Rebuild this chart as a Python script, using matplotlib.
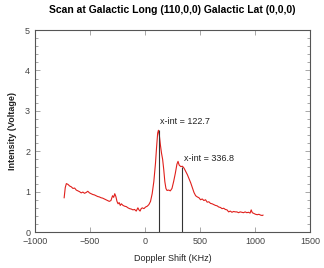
import matplotlib
matplotlib.use('Agg')
import matplotlib.pyplot as plt
from matplotlib.ticker import MultipleLocator

plt.rcParams['font.family'] = ['Liberation Sans', 'DejaVu Sans']

# Doppler shift (KHz) and intensity (V)
shift = [-735, -725, -715, -700, -685, -670, -655, -640, -625, -610, -595, -580,
         -565, -550, -535, -520, -505, -490, -475, -460, -445, -430, -415, -400,
         -385, -370, -355, -340, -325, -310, -295, -285, -275, -265, -255, -245,
         -235, -225, -215, -200, -185, -170, -155, -140, -125, -110, -95, -80,
         -65, -55, -45, -35, -25, -10, 5, 20, 35, 50, 65, 80, 95, 105, 115, 122,
         130, 140, 150, 160, 170, 180, 190, 200, 215, 230, 245, 260, 275, 290,
         300, 310, 325, 340, 355, 370, 385, 400, 415, 430, 445, 460, 475, 490,
         505, 520, 535, 550, 565, 580, 595, 610, 625, 640, 655, 670, 685, 700,
         715, 730, 745, 760, 775, 790, 805, 820, 835, 850, 865, 880, 895, 910,
         925, 940, 955, 965, 975, 990, 1005, 1020, 1035, 1050, 1065, 1072]
intensity = [0.85, 1.10, 1.20, 1.18, 1.14, 1.12, 1.08, 1.09, 1.04, 1.02, 1.00, 0.97,
             0.99, 0.96, 0.98, 1.01, 0.97, 0.95, 0.93, 0.92, 0.90, 0.88, 0.87, 0.85,
             0.84, 0.82, 0.80, 0.78, 0.76, 0.78, 0.90, 0.86, 0.95, 0.88, 0.76, 0.70,
             0.73, 0.66, 0.70, 0.66, 0.64, 0.63, 0.60, 0.58, 0.57, 0.55, 0.56, 0.52,
             0.60, 0.55, 0.52, 0.58, 0.60, 0.58, 0.62, 0.64, 0.68, 0.76, 0.95, 1.25,
             1.70, 2.10, 2.45, 2.52, 2.40, 2.15, 1.95, 1.80, 1.55, 1.25, 1.08, 1.03,
             1.04, 1.02, 1.08, 1.25, 1.45, 1.68, 1.75, 1.66, 1.62, 1.63, 1.58, 1.50,
             1.42, 1.32, 1.22, 1.10, 0.98, 0.90, 0.87, 0.85, 0.80, 0.82, 0.78, 0.80,
             0.74, 0.75, 0.71, 0.70, 0.68, 0.66, 0.65, 0.62, 0.61, 0.58, 0.59, 0.56,
             0.55, 0.50, 0.52, 0.49, 0.51, 0.50, 0.50, 0.48, 0.50, 0.49, 0.48, 0.50,
             0.48, 0.49, 0.47, 0.55, 0.48, 0.46, 0.44, 0.43, 0.44, 0.42, 0.41, 0.42]

peak_x = [122.7, 336.8]
peak_y = [2.52, 1.62]
peak_labels = ['x-int = 122.7', 'x-int = 336.8']

fig = plt.figure(figsize=(3.24, 2.68), dpi=100)
ax = fig.add_axes([0.108, 0.134, 0.849, 0.754])

ax.plot(shift, intensity, color='#e0201c', lw=0.8)
for px, py, lab in zip(peak_x, peak_y, peak_labels):
    ax.vlines(px, 0, py, color='#333333', lw=0.8)
    ax.text(px + 15, py + 0.1, lab, fontsize=6.5, color='#222222', ha='left', va='bottom')

ax.set_xlim(-1000, 1500)
ax.set_ylim(0, 5)
ax.xaxis.set_major_locator(MultipleLocator(500))
ax.yaxis.set_major_locator(MultipleLocator(1))
ax.yaxis.set_minor_locator(MultipleLocator(0.2))
ax.tick_params(which='both', direction='in', top=True, right=True, colors='#999999',
               labelcolor='#444444', labelsize=6.5, width=0.6)
ax.tick_params(which='major', length=3.5)
ax.tick_params(which='minor', length=2)
for s in ax.spines.values():
    s.set_color('#555555')
    s.set_linewidth(0.8)

ax.set_title('Scan at Galactic Long (110,0,0) Galactic Lat (0,0,0)', fontsize=7.5,
             fontweight='bold', pad=12)
ax.set_xlabel('Doppler Shift (KHz)', fontsize=6.5, labelpad=6, color='#222222')
ax.set_ylabel('Intensity (Voltage)', fontsize=6.5, fontweight='bold', labelpad=6,
              color='#222222')

fig.savefig('out.png', dpi=100)
